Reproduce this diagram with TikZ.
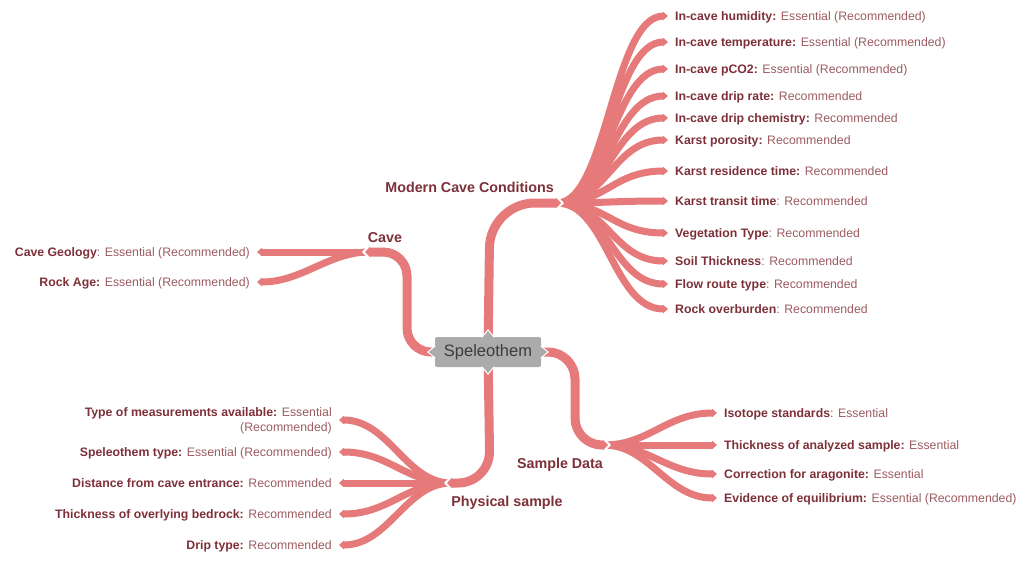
\documentclass[tikz,border=0pt]{standalone}
\usepackage{fontspec}
\setmainfont{Liberation Sans}
\usetikzlibrary{arrows.meta,calc,backgrounds}
\definecolor{br}{HTML}{E67A7B}
\definecolor{tb}{HTML}{7D3038}
\definecolor{tr}{HTML}{9C5B60}
\definecolor{cg}{HTML}{ABABAB}
\definecolor{ct}{HTML}{3C3C3C}
\newcommand\lbl[1]{\textcolor{tb}{\bfseries #1}}
\tikzset{
  mainbr/.style={draw=br, line width=9pt, -{Triangle[length=5pt,width=10pt]}},
  mainhalo/.style={draw=white, line width=12pt, -{Triangle[length=7pt,width=14pt]}},
  leafbr/.style={draw=br, line width=7pt, -{Triangle[length=5pt,width=8.5pt]}},
  lbase/.style={inner xsep=7pt, inner ysep=0pt, text=tr, font=\fontsize{12.3}{15}\selectfont},
  lr/.style={lbase, anchor=west, text height=8.8pt, text depth=0pt},
  ll/.style={lbase, anchor=east, text height=8.8pt, text depth=0pt},
  brlbl/.style={inner sep=0pt, text=tb, font=\bfseries\fontsize{14.3}{16}\selectfont, text height=10.3pt, text depth=0pt},
  centre/.style={fill=cg, rounded corners=2pt, minimum width=106pt, minimum height=30pt, inner sep=0pt, text=ct, font=\fontsize{16.5}{18}\selectfont},
  pointer/.style={fill=cg, draw=white, line width=1pt}
}
\begin{document}
\begin{tikzpicture}[x=1pt,y=-1pt]
\useasboundingbox (0,0) rectangle (1025,563);

% central node
\node[centre] (sp) at (488,352) {Speleothem};

% hubs
\coordinate (mcc) at (561,203);
\coordinate (mccH) at (564,203);
\coordinate (mccL) at (557,203);
\coordinate (cave) at (365,252);
\coordinate (caveH) at (362,252);
\coordinate (caveL) at (369,252);
\coordinate (phys) at (447,483);
\coordinate (physH) at (444,483);
\coordinate (physL) at (451,483);
\coordinate (samp) at (608,445);
\coordinate (sampH) at (611,445);
\coordinate (sampL) at (604,445);

% branch labels
\node[brlbl, anchor=east] (mccl) at (554,187) {Modern Cave Conditions};
\node[brlbl] (cavel) at (385,237) {Cave};
\node[brlbl] (physl) at (507,501) {Physical sample};
\node[brlbl] (sampl) at (560,463) {Sample Data};

% Modern Cave Conditions leaves
\node[lr] (m1) at (668,16) {\lbl{In-cave humidity:} Essential (Recommended)};
\node[lr] (m2) at (668,42) {\lbl{In-cave temperature:} Essential (Recommended)};
\node[lr] (m3) at (668,69) {\lbl{In-cave pCO2:} Essential (Recommended)};
\node[lr] (m4) at (668,96) {\lbl{In-cave drip rate:} Recommended};
\node[lr] (m5) at (668,118) {\lbl{In-cave drip chemistry:} Recommended};
\node[lr] (m6) at (668,140) {\lbl{Karst porosity:} Recommended};
\node[lr] (m7) at (668,171) {\lbl{Karst residence time:} Recommended};
\node[lr] (m8) at (668,201) {\lbl{Karst transit time}: Recommended};
\node[lr] (m9) at (668,233) {\lbl{Vegetation Type}: Recommended};
\node[lr] (m10) at (668,261) {\lbl{Soil Thickness}: Recommended};
\node[lr] (m11) at (668,284) {\lbl{Flow route type}: Recommended};
\node[lr] (m12) at (668,309) {\lbl{Rock overburden}: Recommended};

% Cave leaves
\node[ll] (c1) at (257,252) {\lbl{Cave Geology}: Essential (Recommended)};
\node[ll] (c2) at (257,282) {\lbl{Rock Age:} Essential (Recommended)};

% Physical sample leaves
\node[lbase, anchor=east, align=right] (p1) at (339,421) {\lbl{Type of measurements available:} Essential\\(Recommended)};
\node[ll] (p2) at (339,452) {\lbl{Speleothem type:} Essential (Recommended)};
\node[ll] (p3) at (339,483) {\lbl{Distance from cave entrance:} Recommended};
\node[ll] (p4) at (339,514) {\lbl{Thickness of overlying bedrock:} Recommended};
\node[ll] (p5) at (339,545) {\lbl{Drip type:} Recommended};

% Sample Data leaves
\node[lr] (s1) at (717,413) {\lbl{Isotope standards}: Essential};
\node[lr] (s2) at (717,445) {\lbl{Thickness of analyzed sample:} Essential};
\node[lr] (s3) at (717,474) {\lbl{Correction for aragonite:} Essential};
\node[lr] (s4) at (717,498) {\lbl{Evidence of equilibrium:} Essential (Recommended)};

\begin{scope}[on background layer]
  % leaves
  \foreach \n in {m1,m2,m3,m4,m5,m6,m7,m8,m9,m10,m11,m12}
    \draw[leafbr] (mccL) .. controls +(50,0) and +(-55,0) .. (\n.west);
  \foreach \n in {c1,c2}
    \draw[leafbr] (caveL) .. controls +(-40,0) and +(45,0) .. (\n.east);
  \draw[leafbr] (physL) .. controls +(-45,0) and +(50,0) .. ($(p1.east)+(0,-1)$);
  \foreach \n in {p2,p3,p4,p5}
    \draw[leafbr] (physL) .. controls +(-45,0) and +(50,0) .. (\n.east);
  \foreach \n in {s1,s2,s3,s4}
    \draw[leafbr] (sampL) .. controls +(45,0) and +(-50,0) .. (\n.west);
  % main branches with halo notch
  \draw[mainhalo, rounded corners=45pt] (sp.center) -- (490,203) -- (mccH);
  \draw[mainbr, rounded corners=45pt] (sp.center) -- (490,203) -- (mcc);
  \draw[mainhalo, rounded corners=24pt] (sp.center) -- (407,352) -- (407,252) -- (caveH);
  \draw[mainbr, rounded corners=24pt] (sp.center) -- (407,352) -- (407,252) -- (cave);
  \draw[mainhalo, rounded corners=32pt] (sp.center) -- (490,483) -- (physH);
  \draw[mainbr, rounded corners=32pt] (sp.center) -- (490,483) -- (phys);
  \draw[mainhalo, rounded corners=27pt] (sp.center) -- (575,352) -- (575,445) -- (sampH);
  \draw[mainbr, rounded corners=27pt] (sp.center) -- (575,352) -- (575,445) -- (samp);
\end{scope}

% small pointers on central node
\path[pointer] ($(sp.north)+(-6,0.5)$) -- ($(sp.north)+(0,-7)$) -- ($(sp.north)+(6,0.5)$);
\path[pointer] ($(sp.south)+(-6,-0.5)$) -- ($(sp.south)+(0,7)$) -- ($(sp.south)+(6,-0.5)$);
\path[pointer] ($(sp.west)+(0.5,-6)$) -- ($(sp.west)+(-7,0)$) -- ($(sp.west)+(0.5,6)$);
\path[pointer] ($(sp.east)+(-0.5,-6)$) -- ($(sp.east)+(7,0)$) -- ($(sp.east)+(-0.5,6)$);
\end{tikzpicture}
\end{document}
